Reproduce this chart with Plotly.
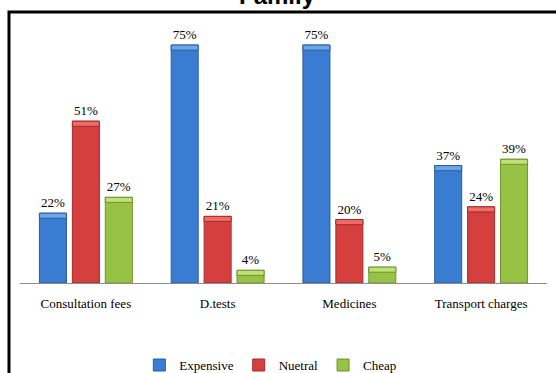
import plotly.graph_objects as go

# Survey responses on cost perception (percent of respondents)
categories = ["Consultation fees", "D.tests", "Medicines", "Transport charges"]
expensive = [22, 75, 75, 37]
neutral = [51, 21, 20, 24]
cheap = [27, 4, 5, 39]

series = [
    ("Expensive", expensive, "#3a7cd2", "#2b5d9c", "#6ea6ea"),
    ("Nuetral", neutral, "#d53f3e", "#a32c2b", "#ee6c68"),
    ("Cheap", cheap, "#98c243", "#6f9330", "#c0e078"),
]

serif = "Times New Roman"
CAP = 1.6  # height of the lighter bevel band at the top of each bar

fig = go.Figure()
for name, vals, col, edge, light in series:
    fig.add_trace(go.Bar(
        x=categories, y=vals, name=name, offsetgroup=name,
        marker=dict(color=col, line=dict(color=edge, width=1)),
        text=[f"{v}%" for v in vals], textposition="outside",
        textfont=dict(family=serif, size=13, color="black"),
        cliponaxis=False,
    ))
for name, vals, col, edge, light in series:
    fig.add_trace(go.Bar(
        x=categories, y=[CAP] * len(vals), base=[v - CAP for v in vals],
        offsetgroup=name, showlegend=False, hoverinfo="skip",
        marker=dict(color=light, line=dict(color=edge, width=1)),
    ))

fig.update_layout(
    width=556, height=373,
    margin=dict(l=20, r=9, t=20, b=90, autoexpand=False),
    barmode="group", bargap=0.25, bargroupgap=0.18,
    plot_bgcolor="white", paper_bgcolor="white",
    font=dict(family=serif, size=13, color="black"),
    showlegend=True,
    legend=dict(orientation="h", x=0.475, xanchor="center", y=-0.312, yanchor="middle",
                font=dict(family=serif, size=13, color="black"),
                itemwidth=30, traceorder="normal"),
    xaxis=dict(showline=True, linecolor="#8c8c8c", linewidth=1, ticks="",
               automargin=False, showgrid=False, ticklabelstandoff=8,
               tickfont=dict(family=serif, size=13, color="black")),
    yaxis=dict(range=[0, 82.9], visible=False, showgrid=False, automargin=False),
    shapes=[dict(type="rect", xref="paper", yref="paper",
                 x0=-0.0209, x1=1.2, y0=-0.6, y1=1.030,
                 line=dict(color="black", width=3), fillcolor="rgba(0,0,0,0)")],
    annotations=[dict(text="<b>Family</b>", xref="paper", yref="paper",
                      x=0.489, y=1.095, xanchor="center", yanchor="middle",
                      showarrow=False,
                      font=dict(family="Liberation Sans", size=24, color="black"))],
)

fig.write_html("out.html")
